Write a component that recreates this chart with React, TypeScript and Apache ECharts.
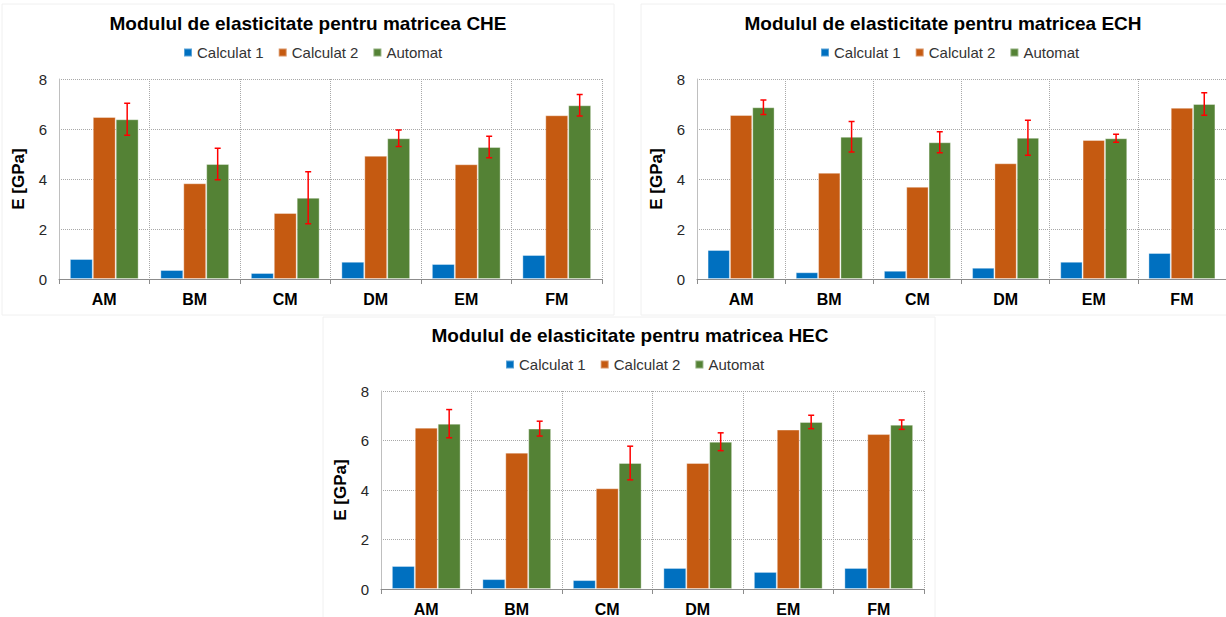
import React, { useEffect, useRef } from 'react';
import * as echarts from 'echarts';

const categories = ['AM', 'BM', 'CM', 'DM', 'EM', 'FM'];
const legendNames = ['Calculat 1', 'Calculat 2', 'Automat'];
const yMin = 0;
const yMax = 8;
const yInterval = 2;

const cheTitle = 'Modulul de elasticitate pentru matricea CHE';
const cheCalc1 = [0.8, 0.36, 0.24, 0.69, 0.6, 0.96];
const cheCalc2 = [6.48, 3.83, 2.64, 4.93, 4.59, 6.55];
const cheAuto = [6.39, 4.6, 3.25, 5.63, 5.28, 6.95];
const cheErr = [0.64, 0.63, 1.04, 0.33, 0.43, 0.43];

const echTitle = 'Modulul de elasticitate pentru matricea ECH';
const echCalc1 = [1.16, 0.27, 0.33, 0.45, 0.69, 1.04];
const echCalc2 = [6.56, 4.25, 3.69, 4.63, 5.56, 6.85];
const echAuto = [6.87, 5.69, 5.47, 5.65, 5.63, 7.0];
const echErr = [0.29, 0.61, 0.42, 0.7, 0.16, 0.45];

const hecTitle = 'Modulul de elasticitate pentru matricea HEC';
const hecCalc1 = [0.93, 0.4, 0.36, 0.85, 0.69, 0.85];
const hecCalc2 = [6.52, 5.51, 4.07, 5.09, 6.44, 6.26];
const hecAuto = [6.68, 6.48, 5.09, 5.95, 6.75, 6.64];
const hecErr = [0.57, 0.3, 0.68, 0.36, 0.27, 0.19];

const colors = ['#0070C0', '#C55A11', '#548235'];
const FONT = '"Liberation Sans", Arial, sans-serif';
const CAT_GAP = 0.24;

const panels = [
  { title: cheTitle, c1: cheCalc1, c2: cheCalc2, auto: cheAuto, err: cheErr,
    grid: { left: 59, top: 79, width: 543, height: 200 }, titleX: 308, titleY: 14, legendLeft: 183, legendTop: 45,
    box: [2, 4, 612, 311] },
  { title: echTitle, c1: echCalc1, c2: echCalc2, auto: echAuto, err: echErr,
    grid: { left: 697, top: 79, width: 538, height: 200 }, titleX: 943, titleY: 14, legendLeft: 820, legendTop: 45,
    box: [641, 4, 620, 311] },
  { title: hecTitle, c1: hecCalc1, c2: hecCalc2, auto: hecAuto, err: hecErr,
    grid: { left: 381, top: 391, width: 543, height: 201 }, titleX: 630, titleY: 326, legendLeft: 505, legendTop: 357,
    box: [323, 317, 612, 310] },
];

function buildOption() {
  const title: any[] = [];
  const legend: any[] = [];
  const grid: any[] = [];
  const xAxis: any[] = [];
  const yAxis: any[] = [];
  const series: any[] = [];
  const graphic: any[] = [];

  panels.forEach((p, i) => {
    graphic.push({
      type: 'rect', z: -10, silent: true,
      shape: { x: p.box[0], y: p.box[1], width: p.box[2], height: p.box[3] },
      style: { fill: 'none', stroke: '#f0f0f0', lineWidth: 1 },
    });
    title.push({
      text: p.title, left: p.titleX, top: p.titleY, textAlign: 'center', padding: 0,
      textStyle: { fontFamily: FONT, fontWeight: 'bold', fontSize: 19, color: '#000' },
    });
    legend.push({
      data: legendNames, left: p.legendLeft, top: p.legendTop, padding: 0,
      itemWidth: 8, itemHeight: 8, itemGap: 14, icon: 'rect', selectedMode: false,
      textStyle: { fontFamily: FONT, fontSize: 15, color: '#333' },
    });
    grid.push({ ...p.grid, containLabel: false });
    xAxis.push({
      type: 'category', gridIndex: i, data: categories,
      axisLine: { show: true, lineStyle: { color: '#8c8c8c', width: 1 } },
      axisTick: { show: true, length: 5, lineStyle: { color: '#8c8c8c' } },
      axisLabel: { fontFamily: FONT, fontWeight: 'bold', fontSize: 16, color: '#000', margin: 12 },
      splitLine: { show: true, lineStyle: { type: 'dotted', color: '#a8a8a8', width: 1 } },
    });
    yAxis.push({
      type: 'value', gridIndex: i, min: yMin, max: yMax, interval: yInterval,
      name: 'E [GPa]', nameLocation: 'middle', nameGap: 32, nameRotate: 90,
      nameTextStyle: { fontFamily: FONT, fontWeight: 'bold', fontSize: 17, color: '#000' },
      axisLine: { show: true, lineStyle: { color: '#bfbfbf', width: 1 } },
      axisTick: { show: false },
      axisLabel: { fontFamily: FONT, fontSize: 15, color: '#262626', margin: 12 },
      splitLine: { show: true, lineStyle: { type: 'dotted', color: '#a8a8a8', width: 1 } },
    });
    const vals = [p.c1, p.c2, p.auto];
    vals.forEach((v, k) => {
      series.push({
        type: 'bar', name: legendNames[k], xAxisIndex: i, yAxisIndex: i, data: v,
        barGap: '0%', barCategoryGap: (CAT_GAP * 100) + '%',
        itemStyle: { color: colors[k], borderColor: 'rgba(255,255,255,0.35)', borderWidth: 1 },
      });
    });
    series.push({
      type: 'custom', name: 'err' + i, xAxisIndex: i, yAxisIndex: i, z: 10,
      data: p.auto.map((v, j) => [j, v, p.err[j]]),
      renderItem: (params: any, api: any) => {
        const x = api.value(0);
        const v = api.value(1);
        const e = api.value(2);
        const hi = api.coord([x, v + e]);
        const lo = api.coord([x, v - e]);
        const band = api.size([1, 0])[0];
        const w = (band * (1 - CAT_GAP)) / 3;
        const cx = hi[0] + w;
        const cap = 3;
        const st = { stroke: '#FF0000', lineWidth: 1.5 };
        return {
          type: 'group',
          children: [
            { type: 'line', shape: { x1: cx, y1: hi[1], x2: cx, y2: lo[1] }, style: st },
            { type: 'line', shape: { x1: cx - cap, y1: hi[1], x2: cx + cap, y2: hi[1] }, style: st },
            { type: 'line', shape: { x1: cx - cap, y1: lo[1], x2: cx + cap, y2: lo[1] }, style: st },
          ],
        };
      },
    });
  });

  return { animation: false, backgroundColor: '#fff', title, legend, grid, xAxis, yAxis, series, graphic };
}

export default function App() {
  const ref = useRef<HTMLDivElement>(null);
  useEffect(() => {
    if (!ref.current) return;
    const chart = echarts.init(ref.current, null, { renderer: 'svg' });
    chart.setOption(buildOption() as any);
    return () => chart.dispose();
  }, []);
  return (
    <div
      ref={ref}
      style={{ position: 'absolute', left: 0, top: 0, width: 1226, height: 617, background: '#fff' }}
    />
  );
}
